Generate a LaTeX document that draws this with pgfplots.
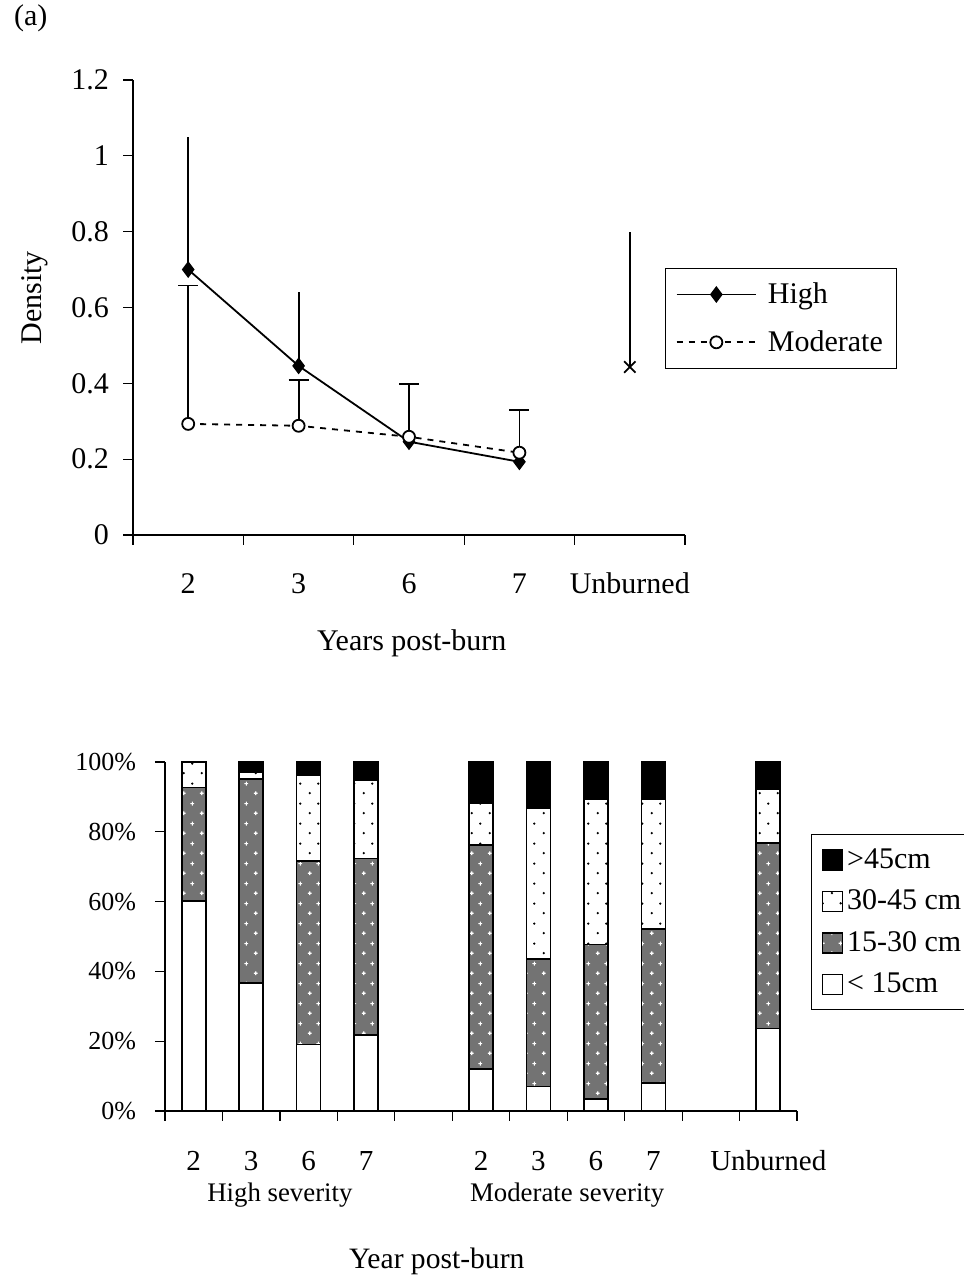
\documentclass[border=0pt]{standalone}
\usepackage{fontspec}
\setmainfont{Liberation Serif}
\usepackage{pgfplots}
\pgfplotsset{compat=1.18}
\usetikzlibrary{patterns}

% sparse black dots (30-45 cm)
\pgfdeclarepatternformonly{sparsedots}{\pgfqpoint{0pt}{0pt}}{\pgfqpoint{9pt}{10pt}}{\pgfqpoint{9pt}{10pt}}{%
  \pgfpathcircle{\pgfqpoint{2pt}{2pt}}{0.65pt}%
  \pgfpathcircle{\pgfqpoint{6.5pt}{7pt}}{0.65pt}%
  \pgfusepath{fill}}
% small white crosses on dark grey (15-30 cm)
\pgfdeclarepatternformonly{crosses}{\pgfqpoint{0pt}{0pt}}{\pgfqpoint{9pt}{10pt}}{\pgfqpoint{9pt}{10pt}}{%
  \pgfsetlinewidth{0.6pt}%
  \pgfpathmoveto{\pgfqpoint{1pt}{2pt}}\pgfpathlineto{\pgfqpoint{3pt}{2pt}}%
  \pgfpathmoveto{\pgfqpoint{2pt}{1pt}}\pgfpathlineto{\pgfqpoint{2pt}{3pt}}%
  \pgfpathmoveto{\pgfqpoint{5.5pt}{7pt}}\pgfpathlineto{\pgfqpoint{7.5pt}{7pt}}%
  \pgfpathmoveto{\pgfqpoint{6.5pt}{6pt}}\pgfpathlineto{\pgfqpoint{6.5pt}{8pt}}%
  \pgfusepath{stroke}}

\newcommand{\fs}[1]{\fontsize{#1}{1.2\dimexpr#1pt\relax}\selectfont}

\begin{document}
\begin{tikzpicture}
\useasboundingbox (0,0) rectangle (481.5pt,638.5pt);
\node[anchor=west, font=\fs{15}] at (3.5pt,629.5pt) {(a)};

% ---------- top panel ----------
\begin{axis}[
  at={(66.5pt,371pt)}, anchor=south west, scale only axis,
  width=276pt, height=227.5pt,
  xmin=0.5, xmax=5.5, ymin=0, ymax=1.2,
  axis x line*=bottom, axis y line*=left, axis line style={-, line width=0.6pt},
  xtick={1,2,3,4,5}, xticklabels={2,3,6,7,Unburned},
  major x tick style={draw=none},
  minor xtick={0.5,1.5,2.5,3.5,4.5,5.5},
  ytick={0,0.2,0.4,0.6,0.8,1,1.2},
  tick align=outside, major tick length=5pt, minor tick length=5pt,
  tick style={black, line width=0.6pt},
  /pgf/number format/assume math mode=true,
  ticklabel style={font=\fs{15}},
  xticklabel style={anchor=base, yshift=-24.5pt},
  yticklabel style={xshift=-3.5pt},
  xlabel={Years post-burn}, ylabel={Density},
  label style={font=\fs{15}},
  xlabel style={at={(axis description cs:0.505,-0.2374)}, anchor=center},
  ylabel style={at={(axis description cs:-0.1775,0.521)}, anchor=center},
  clip=false,
  legend image code/.code={\draw[mark repeat=2,mark phase=2,#1] plot coordinates {(0cm,0cm) (0.7cm,0cm) (1.4cm,0cm)}; \path (1.52cm,0cm);},
  legend style={at={(axis description cs:0.9638,0.5868)}, anchor=north west,
    draw=black, line width=0.6pt, font=\fs{15}, row sep=8pt, inner sep=5pt},
  legend cell align=left,
]
\addplot[black, line width=0.9pt, mark=diamond*, mark size=3.5pt,
  error bars/.cd, y dir=plus, y explicit, error mark=none,
  error bar style={line width=0.9pt}]
  coordinates {(1,0.700) +- (0,0.349) (2,0.446) +- (0,0.196) (3,0.246) +- (0,0) (4,0.193) +- (0,0)};
\addlegendentry{High}
\addplot[black, line width=0.9pt, dash pattern=on 3pt off 3pt, mark=*, mark size=3pt,
  mark options={solid, fill=white, draw=black},
  error bars/.cd, y dir=plus, y explicit,
  error bar style={line width=0.9pt, solid},
  error mark options={rotate=90, mark size=5pt, line width=0.9pt, solid}]
  coordinates {(1,0.293) +- (0,0.365) (2,0.288) +- (0,0.121) (3,0.259) +- (0,0.139) (4,0.217) +- (0,0.113)};
\addlegendentry{Moderate}
\addplot[black, only marks, mark=x, mark size=4pt, mark options={line width=0.9pt},
  forget plot,
  error bars/.cd, y dir=plus, y explicit, error mark=none,
  error bar style={line width=0.9pt}]
  coordinates {(5,0.443) +- (0,0.357)};
\end{axis}

% ---------- bottom panel ----------
\begin{axis}[
  at={(82.5pt,83pt)}, anchor=south west, scale only axis,
  width=316pt, height=174.5pt,
  ybar stacked, bar width=12pt,
  xmin=0.5, xmax=11.5, ymin=0, ymax=100,
  axis x line*=bottom, axis y line*=left, axis line style={-, line width=0.6pt},
  xtick={1,2,3,4,6,7,8,9,11}, xticklabels={2,3,6,7,2,3,6,7,Unburned},
  major x tick style={draw=none},
  minor xtick={0.5,1.5,...,11.5},
  ytick={0,20,40,60,80,100},
  yticklabel={\pgfmathprintnumber{\tick}\%},
  tick align=outside, major tick length=5pt, minor tick length=5pt,
  tick style={black, line width=0.6pt},
  /pgf/number format/assume math mode=true,
  xticklabel style={font=\fs{14.5}, anchor=base, yshift=-24.5pt},
  yticklabel style={font=\fs{13}, xshift=-6pt},
  xlabel={Year post-burn},
  xlabel style={font=\fs{14.8}, at={(axis description cs:0.43,-0.43)}, anchor=center},
  clip=false,
  every axis plot/.append style={draw=black, line width=0.8pt},
  legend image code/.code={\draw[#1] (2pt,-5pt) rectangle (12pt,5pt);},
  reverse legend,
  legend style={at={(axis description cs:1.022,0.794)}, anchor=north west,
    draw=black, line width=0.6pt, font=\fs{15}, row sep=5.3pt, inner sep=5pt},
  legend cell align=left,
]
\addplot[fill=white] coordinates {(1,60.2) (2,36.6) (3,19.1) (4,21.8) (6,12.0) (7,7.0) (8,3.5) (9,8.0) (11,23.6)};
\addlegendentry{< 15cm}
\addplot[fill=black!55, postaction={pattern=crosses, pattern color=white}] coordinates {(1,32.5) (2,58.6) (3,52.5) (4,50.5) (6,64.2) (7,36.6) (8,44.2) (9,44.1) (11,53.2)};
\addlegendentry{15-30 cm}
\addplot[fill=white, postaction={pattern=sparsedots, pattern color=black}] coordinates {(1,7.3) (2,2.0) (3,24.5) (4,22.6) (6,12.0) (7,43.2) (8,41.6) (9,37.2) (11,15.5)};
\addlegendentry{30-45 cm}
\addplot[fill=black] coordinates {(1,0) (2,2.8) (3,3.9) (4,5.1) (6,11.8) (7,13.2) (8,10.7) (9,10.7) (11,7.7)};
\addlegendentry{>45cm}
\node[font=\fs{13.4}] at (axis cs:2.5,0) [yshift=-42pt] {High severity};
\node[font=\fs{13.4}] at (axis cs:7.5,0) [yshift=-42pt] {Moderate severity};
\end{axis}
\end{tikzpicture}
\end{document}
